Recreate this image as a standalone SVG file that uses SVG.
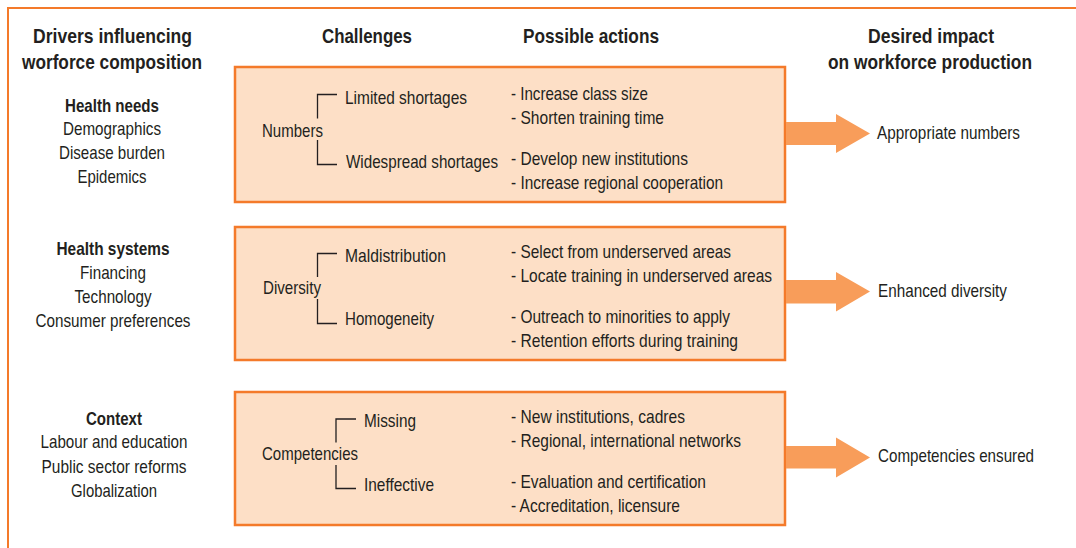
<svg xmlns="http://www.w3.org/2000/svg" width="1076" height="548" viewBox="0 0 1076 548">
<style>
text{font-family:"Liberation Sans",Arial,sans-serif;fill:#231f20;font-size:19px}
.h{font-weight:bold;font-size:20.5px}
.b{font-weight:bold}
.m{text-anchor:middle}
.box{fill:#fddfc6;stroke:#f47a2a;stroke-width:2.5}
.arr{fill:#f89d5a}
.br{fill:none;stroke:#231f20;stroke-width:1.3}
.frame{fill:none;stroke:#f47a2a;stroke-width:2}
</style>
<rect width="1076" height="548" fill="#ffffff"/>
<path class="frame" d="M8,548 V8 H1076"/>
<g id="headers">
<text class="h" x="33" y="43" textLength="159" lengthAdjust="spacingAndGlyphs">Drivers influencing</text>
<text class="h" x="22" y="69" textLength="180" lengthAdjust="spacingAndGlyphs">worforce composition</text>
<text class="h" x="322" y="43" textLength="90" lengthAdjust="spacingAndGlyphs">Challenges</text>
<text class="h" x="523" y="43" textLength="136" lengthAdjust="spacingAndGlyphs">Possible actions</text>
<text class="h" x="868" y="43" textLength="126" lengthAdjust="spacingAndGlyphs">Desired impact</text>
<text class="h" x="828" y="69" textLength="204" lengthAdjust="spacingAndGlyphs">on workforce production</text>
</g>
<g id="driver-health-needs">
<text class="b m" x="112" y="112" textLength="94" lengthAdjust="spacingAndGlyphs">Health needs</text>
<text class="m" x="112" y="135" textLength="98" lengthAdjust="spacingAndGlyphs">Demographics</text>
<text class="m" x="112" y="159" textLength="106" lengthAdjust="spacingAndGlyphs">Disease burden</text>
<text class="m" x="112" y="183" textLength="69" lengthAdjust="spacingAndGlyphs">Epidemics</text>
</g>
<g id="driver-health-systems">
<text class="b m" x="113" y="255" textLength="113" lengthAdjust="spacingAndGlyphs">Health systems</text>
<text class="m" x="113" y="279" textLength="66" lengthAdjust="spacingAndGlyphs">Financing</text>
<text class="m" x="113" y="303" textLength="77" lengthAdjust="spacingAndGlyphs">Technology</text>
<text class="m" x="113" y="327" textLength="155" lengthAdjust="spacingAndGlyphs">Consumer preferences</text>
</g>
<g id="driver-context">
<text class="b m" x="114" y="425" textLength="56" lengthAdjust="spacingAndGlyphs">Context</text>
<text class="m" x="114" y="448" textLength="147" lengthAdjust="spacingAndGlyphs">Labour and education</text>
<text class="m" x="114" y="473" textLength="145" lengthAdjust="spacingAndGlyphs">Public sector reforms</text>
<text class="m" x="114" y="497" textLength="86" lengthAdjust="spacingAndGlyphs">Globalization</text>
</g>
<g id="box-numbers">
<rect class="box" x="235" y="67" width="550" height="135"/>
<text x="262" y="137" textLength="61" lengthAdjust="spacingAndGlyphs">Numbers</text>
<text x="345" y="104" textLength="122" lengthAdjust="spacingAndGlyphs">Limited shortages</text>
<text x="346" y="168" textLength="152" lengthAdjust="spacingAndGlyphs">Widespread shortages</text>
<text x="511" y="100" textLength="137" lengthAdjust="spacingAndGlyphs">- Increase class size</text>
<text x="511" y="124" textLength="153" lengthAdjust="spacingAndGlyphs">- Shorten training time</text>
<text x="511" y="165" textLength="177" lengthAdjust="spacingAndGlyphs">- Develop new institutions</text>
<text x="511" y="189" textLength="212" lengthAdjust="spacingAndGlyphs">- Increase regional cooperation</text>
</g>
<g id="box-diversity">
<rect class="box" x="235" y="227" width="550" height="133"/>
<text x="263" y="294" textLength="58" lengthAdjust="spacingAndGlyphs">Diversity</text>
<text x="345" y="262" textLength="101" lengthAdjust="spacingAndGlyphs">Maldistribution</text>
<text x="345" y="325" textLength="89" lengthAdjust="spacingAndGlyphs">Homogeneity</text>
<text x="511" y="258" textLength="220" lengthAdjust="spacingAndGlyphs">- Select from underserved areas</text>
<text x="511" y="282" textLength="261" lengthAdjust="spacingAndGlyphs">- Locate training in underserved areas</text>
<text x="511" y="323" textLength="219" lengthAdjust="spacingAndGlyphs">- Outreach to minorities to apply</text>
<text x="511" y="347" textLength="227" lengthAdjust="spacingAndGlyphs">- Retention efforts during training</text>
</g>
<g id="box-competencies">
<rect class="box" x="235" y="392" width="550" height="133"/>
<text x="262" y="460" textLength="96" lengthAdjust="spacingAndGlyphs">Competencies</text>
<text x="364" y="427" textLength="52" lengthAdjust="spacingAndGlyphs">Missing</text>
<text x="364" y="491" textLength="70" lengthAdjust="spacingAndGlyphs">Ineffective</text>
<text x="511" y="423" textLength="174" lengthAdjust="spacingAndGlyphs">- New institutions, cadres</text>
<text x="511" y="447" textLength="230" lengthAdjust="spacingAndGlyphs">- Regional, international networks</text>
<text x="511" y="488" textLength="195" lengthAdjust="spacingAndGlyphs">- Evaluation and certification</text>
<text x="511" y="512" textLength="169" lengthAdjust="spacingAndGlyphs">- Accreditation, licensure</text>
</g>
<g id="impact-numbers"><text x="877" y="139" textLength="143" lengthAdjust="spacingAndGlyphs">Appropriate numbers</text></g>
<g id="impact-diversity"><text x="878" y="297" textLength="129" lengthAdjust="spacingAndGlyphs">Enhanced diversity</text></g>
<g id="impact-competencies"><text x="878" y="462" textLength="156" lengthAdjust="spacingAndGlyphs">Competencies ensured</text></g>
<g id="connectors">
<path class="br" d="M337,94.5 H317.5 V118.5 M317.5,140 V164.5 H337"/>
<path class="br" d="M337,253.5 H317.5 V277 M317.5,299 V323.5 H337"/>
<path class="br" d="M356,419 H336 V442.5 M336,465 V488.5 H356"/>
<path class="arr" d="M786,122 H836 V114 L870,133.5 L836,153 V145 H786 Z"/>
<path class="arr" d="M786,280 H836 V272 L870,291.5 L836,311.5 V303.5 H786 Z"/>
<path class="arr" d="M786,446 H836 V437.5 L870,457.5 L836,477.5 V468.5 H786 Z"/>
</g>
</svg>
